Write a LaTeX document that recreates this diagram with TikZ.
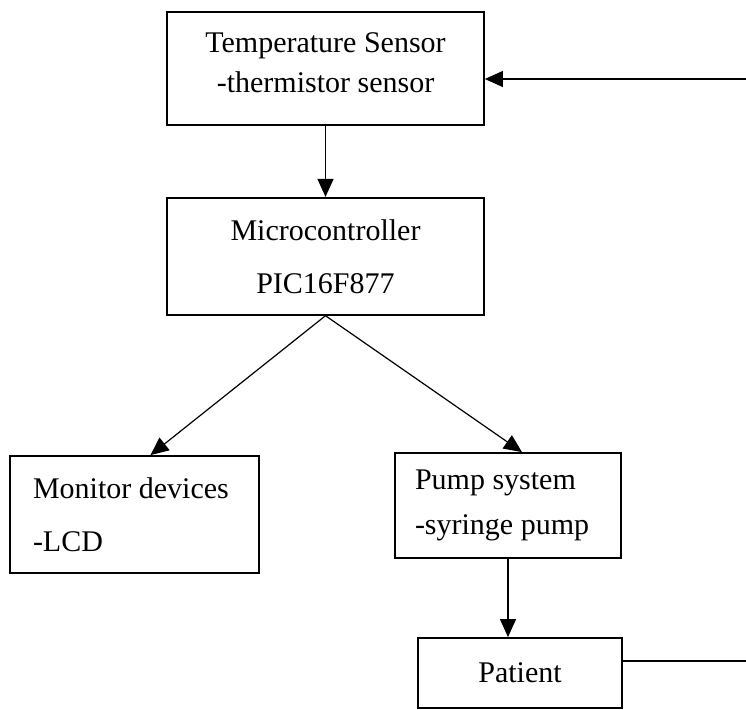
\documentclass[tikz,border=0pt]{standalone}
\usepackage{fontspec}
\setmainfont{Liberation Serif}
\usetikzlibrary{arrows.meta,positioning}

\begin{document}
\begin{tikzpicture}[
				x=1pt, y=1pt,
				node distance=71pt,
				every node/.style={font=\fontsize{30}{40}\selectfont},
				box/.style={
					draw=black,
					align=center,
					inner sep=0pt,
					line width=1.8pt
				},
				leftbox/.style={
					box,
					align=flush left
				},
				arrow/.style={
					-{Triangle[length=18pt,width=16pt]},
					line width=1.2pt
				}
				]
				\useasboundingbox (0,0) rectangle (746,-709);
				\clip (0,0) rectangle (746,-709);
				
				\node[box,minimum width=317pt,minimum height=113pt] (sensor) at (325.5,-68.5)
				{Temperature Sensor\\-thermistor sensor\rule[-12pt]{0pt}{0pt}};
				\node[box,minimum width=317pt,minimum height=117pt,below=71pt of sensor] (mcu)
				{Microcontroller\\[13pt]PIC16F877};
				\node[leftbox,text width=203pt,inner xsep=23pt,minimum height=117pt] (monitor) at (134.5,-514.5)
				{Monitor devices\\[13pt]-LCD};
				\node[leftbox,text width=186pt,inner xsep=20pt,minimum height=105pt] (pump) at (508,-505.5)
				{Pump system\\[5pt]-syringe pump};
				\node[box,minimum width=204pt,minimum height=70pt] (patient) at (520,-673)
				{Patient};
				\coordinate (back) at (775,0);
				
				\draw[arrow] (sensor.south) -- (mcu.north);
				\draw[arrow] (mcu.south) -- ([xshift=16pt]monitor.north);
				\draw[arrow] (mcu.south) -- ([xshift=14pt]pump.north);
				\draw[arrow] (pump.south) -- (pump.south |- patient.north);
				\draw[arrow] ([yshift=12pt]patient.east) -| (back) |- ([yshift=-10.5pt]sensor.east);
			\end{tikzpicture}
\end{document}
